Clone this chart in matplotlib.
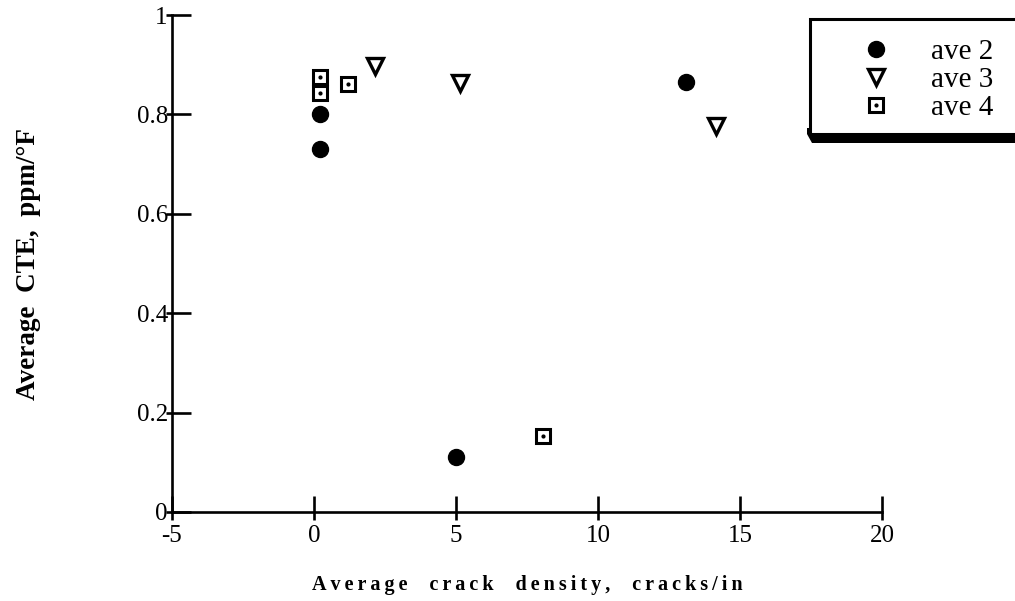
import matplotlib
matplotlib.use("Agg")
import matplotlib.pyplot as plt
from matplotlib.patches import Polygon, Rectangle
from matplotlib.legend_handler import HandlerTuple

# data
ave2_x = [0.2, 0.2, 5.0, 13.1]
ave2_y = [0.80, 0.73, 0.11, 0.865]
ave3_x = [2.15, 5.15, 14.15]
ave3_y = [0.898, 0.864, 0.777]
ave4_x = [0.2, 0.2, 1.2, 8.05]
ave4_y = [0.876, 0.844, 0.862, 0.153]
series_names = ["ave 2", "ave 3", "ave 4"]
x_ticks = [-5, 0, 5, 10, 15, 20]
y_ticks = [0, 0.2, 0.4, 0.6, 0.8, 1]
y_tick_labels = ["0", "0.2", "0.4", "0.6", "0.8", "1"]
x_label = "Average  crack  density,  cracks/in"
y_label = "Average  CTE,  ppm/°F"

serif = ["Liberation Serif", "DejaVu Serif"]
plt.rcParams["font.family"] = serif

W, H = 1015, 601
fig = plt.figure(figsize=(W / 100, H / 100), dpi=100)
ax = fig.add_axes([172 / W, 89 / H, 710 / W, 497 / H])

ax.set_xlim(-5, 20)
ax.set_ylim(0, 1)
for s in ["top", "right"]:
    ax.spines[s].set_visible(False)
for s in ["left", "bottom"]:
    ax.spines[s].set_linewidth(1.9)
    ax.spines[s].set_color("black")

ax.set_xticks(x_ticks)
ax.set_xticklabels([str(v) for v in x_ticks])
ax.set_yticks(y_ticks)
ax.set_yticklabels(y_tick_labels)
# short outward stubs at the same places
ax.set_xticks(x_ticks, minor=True)
ax.set_yticks(y_ticks, minor=True)
ax.xaxis.remove_overlapping_locs = False
ax.yaxis.remove_overlapping_locs = False
ax.tick_params(axis="x", which="major", direction="in", length=11.5, width=1.9,
               pad=9, labelsize=18)
ax.tick_params(axis="y", which="major", direction="in", length=13.5, width=1.9,
               pad=3, labelsize=18)
ax.tick_params(axis="x", which="minor", direction="out", length=5.5, width=1.9)
ax.tick_params(axis="y", which="minor", direction="out", length=4, width=1.9)

h2, = ax.plot(ave2_x, ave2_y, linestyle="none", marker="o", markersize=11.5,
              markerfacecolor="black", markeredgecolor="black", clip_on=False, zorder=3)
h3, = ax.plot(ave3_x, ave3_y, linestyle="none", marker="v", markersize=11,
              markerfacecolor="white", markeredgecolor="black", markeredgewidth=2.4,
              clip_on=False, zorder=3)
h4, = ax.plot(ave4_x, ave4_y, linestyle="none", marker="s", markersize=10.5,
              markerfacecolor="white", markeredgecolor="black", markeredgewidth=2.2,
              clip_on=False, zorder=4)
h4d, = ax.plot(ave4_x, ave4_y, linestyle="none", marker="o", markersize=2,
               markerfacecolor="black", markeredgecolor="black", clip_on=False, zorder=5)


def spaced(s):
    return "\u2009".join(list(s))


ax.set_xlabel(spaced(x_label), fontsize=14.5, fontweight="bold", va="top")
ax.xaxis.set_label_coords(0.5, -(575 - 512) / 497)
ax.set_ylabel(y_label, fontsize=19.5, fontweight="bold", va="center")
ax.yaxis.set_label_coords(-(172 - 29) / 710, 0.5 - (264 - 263) / 497)


# legend box with black drop shadow (drawn in figure pixels)
def fx(px):
    return px / W


def fy(py):
    return 1 - py / H


shadow = Polygon([(fx(807), fy(128)), (fx(807), fy(134)), (fx(812), fy(143)),
                  (fx(1015), fy(143)), (fx(1015), fy(128))],
                 closed=True, transform=fig.transFigure, facecolor="black",
                 edgecolor="none", zorder=1)
box = Rectangle((fx(810), fy(134)), fx(1030) - fx(810), fy(19) - fy(134),
                transform=fig.transFigure, facecolor="white", edgecolor="black",
                linewidth=2.2, zorder=2)
fig.patches.extend([shadow, box])

leg = fig.legend([h2, h3, (h4, h4d)], series_names,
                 handler_map={tuple: HandlerTuple(ndivide=1)},
                 loc="upper left", bbox_to_anchor=(fx(861), fy(39)),
                 frameon=False, fontsize=21,
                 handlelength=1.0, handletextpad=1.4, labelspacing=0.05,
                 borderpad=0, borderaxespad=0, markerscale=1.0)
leg.set_zorder(10)

fig.savefig("out.png", dpi=100)
